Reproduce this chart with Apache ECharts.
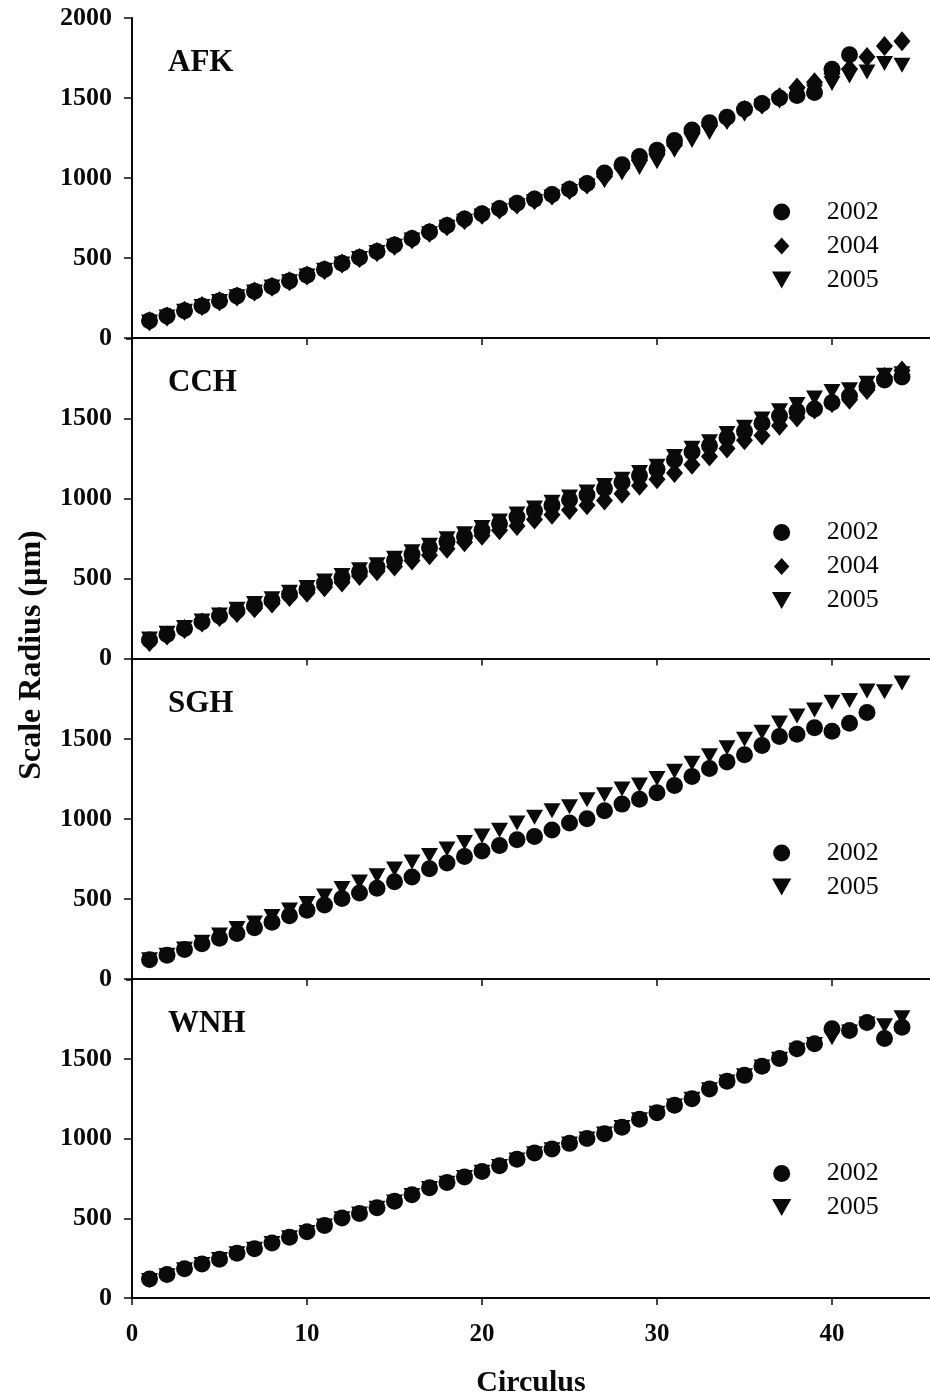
<!DOCTYPE html>
<html>
<head>
<meta charset="utf-8">
<script src="https://cdn.jsdelivr.net/npm/echarts@6/dist/echarts.min.js"></script>
<style>html,body{margin:0;padding:0;background:#fff;overflow:hidden}#c{width:930px;height:1399px}</style>
</head>
<body>
<div id="c"></div>
<script>
// ---- data ----
const circulus = [1,2,3,4,5,6,7,8,9,10,11,12,13,14,15,16,17,18,19,20,21,22,23,24,25,26,27,28,29,30,31,32,33,34,35,36,37,38,39,40,41,42,43,44];
const panelNames = ['AFK','CCH','SGH','WNH'];
const yTicks = [0,500,1000,1500,2000];
const xTicks = [0,10,20,30,40];

const afk2002 = [108,137,170,200,232,262,292,322,357,392,428,467,503,541,582,622,663,703,744,777,810,842,868,897,930,966,1031,1083,1134,1174,1235,1300,1345,1380,1430,1465,1500,1515,1535,1680,1770];
const afk2004 = [105,135,170,200,230,260,290,320,355,390,425,465,500,538,577,617,658,698,738,770,803,835,862,890,925,960,1010,1062,1113,1153,1205,1286,1327,1368,1425,1459,1505,1565,1598,1652,1681,1756,1825,1855];
const afk2005 = [100,132,167,197,228,258,288,318,352,388,423,462,497,535,573,612,652,692,730,762,795,827,853,882,915,950,983,1031,1066,1101,1174,1234,1285,1347,1398,1449,1480,1520,1539,1590,1637,1662,1716,1705];

const cch2002 = [115,150,188,228,265,298,332,362,402,432,472,506,542,572,612,652,692,732,762,802,842,885,922,957,992,1022,1062,1102,1143,1183,1240,1290,1330,1380,1420,1470,1515,1545,1560,1600,1640,1700,1740,1760];
const cch2004 = [103,143,184,225,260,284,314,344,385,411,445,475,515,545,575,612,646,686,727,767,802,828,868,898,928,958,988,1029,1079,1120,1160,1211,1262,1313,1364,1394,1455,1506,1557,1597,1617,1678,1760,1800];
const cch2005 = [122,158,194,235,272,308,343,374,414,444,485,519,555,586,626,667,708,748,779,819,860,903,940,976,1010,1040,1081,1121,1162,1202,1263,1314,1355,1406,1446,1497,1548,1588,1628,1668,1680,1720,1770,1780];

const sgh2002 = [120,148,184,220,255,285,321,355,396,430,462,503,537,567,608,638,689,725,766,800,834,871,890,931,975,1001,1052,1093,1123,1164,1210,1266,1316,1357,1402,1459,1516,1530,1570,1548,1599,1665];
const sgh2005 = [120,148,188,229,275,316,350,391,431,472,519,565,606,646,687,732,772,813,853,894,930,975,1011,1052,1076,1120,1152,1187,1213,1253,1298,1349,1396,1445,1498,1542,1600,1644,1681,1730,1741,1800,1795,1850];

const wnh2002 = [120,148,184,214,244,281,309,345,381,416,456,503,531,567,608,648,693,725,760,794,830,871,911,935,971,1001,1032,1072,1123,1164,1210,1251,1312,1361,1398,1455,1504,1565,1597,1690,1680,1730,1630,1700];
const wnh2005 = [110,140,178,210,242,278,306,342,378,412,452,498,527,563,603,643,688,720,756,790,826,866,906,931,967,998,1030,1070,1120,1160,1206,1248,1308,1356,1395,1450,1500,1555,1592,1635,1670,1720,1710,1760];

// ---- styling ----
const SERIF = "'Liberation Serif','Times New Roman',serif";
const INK = '#0a0a0a';
const SYM = {
  '2002': {symbol: 'path://M50,0A50,50,0,1,1,50,100A50,50,0,1,1,50,0Z', size: [17,17]},
  '2004': {symbol: 'path://M50,0L100,55L50,110L0,55Z', size: [17,20]},
  '2005': {symbol: 'path://M0,0L100,0L50,88Z', size: [17,15]}
};
const panels = [
  {name: panelNames[0], series: {'2002': afk2002, '2004': afk2004, '2005': afk2005}},
  {name: panelNames[1], series: {'2002': cch2002, '2004': cch2004, '2005': cch2005}},
  {name: panelNames[2], series: {'2002': sgh2002, '2005': sgh2005}},
  {name: panelNames[3], series: {'2002': wnh2002, '2005': wnh2005}}
];

const H = 1399, GL = 132, GW = 800, GT = 18, GH = 320, STEP = 320.5;
const grid = [], xAxis = [], yAxis = [], series = [], title = [], legend = [];

panels.forEach((p, i) => {
  const top = GT + i * STEP;
  grid.push({left: GL, top: top, width: GW, bottom: H - top - GH});
  const isLast = i === panels.length - 1;
  xAxis.push({
    gridIndex: i, type: 'value', min: xTicks[0], max: 45.6, interval: 10,
    axisLine: {lineStyle: {color: INK, width: 2}},
    axisTick: {show: true, length: 7, customValues: xTicks, lineStyle: {color: INK, width: 1.5}},
    axisLabel: {show: isLast, customValues: xTicks, color: INK, fontFamily: SERIF, fontWeight: 'bold', fontSize: 25, margin: 24,
      formatter: v => String(v)},
    splitLine: {show: false},
    name: isLast ? 'Circulus' : '', nameLocation: 'middle', nameGap: 70,
    nameTextStyle: {color: INK, fontFamily: SERIF, fontWeight: 'bold', fontSize: 30}
  });
  xAxis.push({
    gridIndex: i, type: 'value', position: 'top', min: xTicks[0], max: 45.6, interval: 10,
    axisLine: {show: true, lineStyle: {color: INK, width: 2}},
    axisTick: {show: false}, axisLabel: {show: false}, splitLine: {show: false}
  });
  yAxis.push({
    gridIndex: i, type: 'value', min: yTicks[0], max: yTicks[yTicks.length - 1], interval: 500,
    axisLine: {show: true, lineStyle: {color: INK, width: 2}},
    axisTick: {show: true, length: 8, lineStyle: {color: INK, width: 1.5}},
    axisLabel: {color: INK, fontFamily: SERIF, fontWeight: 'bold', fontSize: 26, margin: 20,
      showMaxLabel: i === 0, formatter: v => String(v)},
    splitLine: {show: false}
  });
  yAxis.push({
    gridIndex: i, type: 'value', position: 'right', min: yTicks[0], max: yTicks[yTicks.length - 1], interval: 500,
    axisLine: {show: true, lineStyle: {color: INK, width: 1}},
    axisTick: {show: true, inside: true, length: 6, lineStyle: {color: INK, width: 1.5}},
    axisLabel: {show: false}, splitLine: {show: false}
  });
  const names = Object.keys(p.series);
  names.forEach(nm => {
    const vals = p.series[nm];
    series.push({
      name: nm, type: 'scatter', xAxisIndex: 2 * i, yAxisIndex: 2 * i,
      symbol: SYM[nm].symbol, symbolSize: SYM[nm].size,
      itemStyle: {color: INK, opacity: 1},
      data: vals.map((v, k) => [circulus[k], v])
    });
  });
  title.push({
    text: p.name, left: 168, top: top + 29, padding: 0,
    textStyle: {color: INK, fontFamily: SERIF, fontWeight: 'bold', fontSize: 31}
  });
  legend.push({
    data: names, orient: 'vertical', left: 772, top: top + 181, padding: 0,
    itemWidth: 80, itemHeight: 17, itemGap: 8, symbolKeepAspect: true,
    selectedMode: false,
    textStyle: {color: INK, fontFamily: SERIF, fontSize: 26}
  });
});

const chart = echarts.init(document.getElementById('c'), null, {renderer: 'canvas'});
chart.setOption({
  animation: false,
  backgroundColor: '#ffffff',
  grid, xAxis, yAxis, series, title, legend,
  graphic: [{
    type: 'text', x: 16, y: 655, rotation: Math.PI / 2,
    style: {text: 'Scale Radius (µm)', fill: INK, align: 'center', verticalAlign: 'top',
      font: "bold 32px 'Liberation Serif', serif"}
  }]
});
</script>
</body>
</html>
